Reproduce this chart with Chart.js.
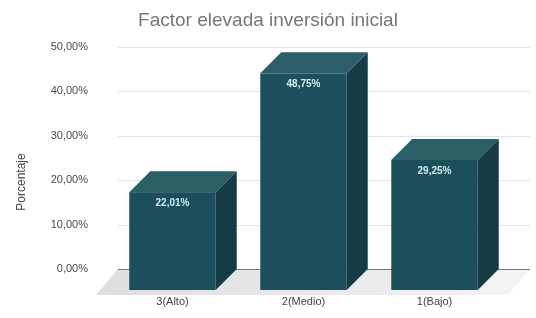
<!DOCTYPE html>
<html>
<head>
<meta charset="utf-8">
<script src="https://cdn.jsdelivr.net/npm/chart.js@4"></script>
<style>
  html, body { margin: 0; padding: 0; background: #fff; }
  #wrap { width: 536px; height: 318px; }
</style>
</head>
<body>
<div id="wrap"><canvas id="myChart" width="536" height="318"></canvas></div>
<script>
const categories = ['3(Alto)', '2(Medio)', '1(Bajo)'];
const percentValues = [22.01, 48.75, 29.25];
const yTicks = [0, 10, 20, 30, 40, 50];

const chartTitle = 'Factor elevada inversión inicial';
const yAxisTitle = 'Porcentaje';

// 3d look
const depthX = 21;
const depthY = 21;
const frontColor = '#1c4e5c';
const topColor = '#2c5e68';
const sideColor = '#153b46';

function pct(v) {
    return v.toFixed(2).replace('.', ',') + '%';
}

const floorAndGrid = {
    id: 'floorAndGrid',
    beforeDatasetsDraw: (chart) => {
        const {ctx, chartArea: {left, right}, scales: {y}} = chart;
        const base = y.getPixelForValue(0);
        ctx.save();
        // floor
        const g = ctx.createLinearGradient(left, 0, right, 0);
        g.addColorStop(0, '#dedede');
        g.addColorStop(1, '#f3f3f3');
        ctx.fillStyle = g;
        ctx.beginPath();
        ctx.moveTo(left + 11, base);
        ctx.lineTo(right + 30, base);
        ctx.lineTo(right + 8, base + 26);
        ctx.lineTo(left - 11, base + 26);
        ctx.closePath();
        ctx.fill();
        // grid lines
        y.ticks.forEach(t => {
            const py = Math.round(y.getPixelForValue(t.value)) + 0.5;
            ctx.strokeStyle = t.value === 0 ? '#7a7a7a' : '#e4e4e4';
            ctx.lineWidth = 1;
            ctx.beginPath();
            ctx.moveTo(left + 11, py);
            ctx.lineTo(right + 30, py);
            ctx.stroke();
        });
        // y axis title
        ctx.translate(22, 182);
        ctx.rotate(-Math.PI / 2);
        ctx.fillStyle = '#444';
        ctx.font = '12px "Liberation Sans", Arial, sans-serif';
        ctx.textAlign = 'center';
        ctx.textBaseline = 'middle';
        ctx.fillText(yAxisTitle, 0, 0);
        ctx.restore();
    }
};

const bars3d = {
    id: 'bars3d',
    afterDatasetsDraw: (chart) => {
        const {ctx} = chart;
        const meta = chart.getDatasetMeta(0);
        ctx.save();
        meta.data.forEach((bar, i) => {
            const {x, y, base, width} = bar.getProps(['x', 'y', 'base', 'width'], true);
            const l = x - width / 2;
            const r = x + width / 2;
            const ft = y + depthY;
            const fb = base + depthY;
            // top
            ctx.fillStyle = topColor;
            ctx.beginPath();
            ctx.moveTo(l, ft);
            ctx.lineTo(l + depthX, y);
            ctx.lineTo(r + depthX, y);
            ctx.lineTo(r, ft);
            ctx.closePath();
            ctx.fill();
            // side
            ctx.fillStyle = sideColor;
            ctx.beginPath();
            ctx.moveTo(r, ft);
            ctx.lineTo(r + depthX, y);
            ctx.lineTo(r + depthX, base);
            ctx.lineTo(r, fb);
            ctx.closePath();
            ctx.fill();
            // front
            ctx.fillStyle = frontColor;
            ctx.fillRect(l, ft, width, fb - ft);
            // value label
            ctx.fillStyle = '#d4ecef';
            ctx.font = 'bold 10px "Liberation Sans", Arial, sans-serif';
            ctx.textAlign = 'center';
            ctx.textBaseline = 'middle';
            ctx.fillText(pct(percentValues[i]), x, ft + 11);
        });
        ctx.restore();
    }
};

const data = {
    labels: categories,
    datasets: [{
        label: yAxisTitle,
        data: percentValues,
        backgroundColor: 'rgba(0,0,0,0)',
        borderWidth: 0,
        barPercentage: 0.66,
        categoryPercentage: 1
    }]
};

const config = {
    type: 'bar',
    data,
    options: {
        responsive: false,
        animation: false,
        layout: { padding: 0 },
        plugins: {
            legend: { display: false },
            tooltip: { enabled: false },
            title: {
                display: true,
                text: chartTitle,
                color: '#767676',
                font: { family: '"Liberation Sans", Arial, sans-serif', size: 19, weight: 'normal' },
                padding: { top: 9, bottom: 15 }
            }
        },
        scales: {
            x: {
                grid: { display: false, drawTicks: false },
                border: { display: false },
                ticks: {
                    color: '#444',
                    padding: 26,
                    font: { family: '"Liberation Sans", Arial, sans-serif', size: 11 }
                },
                afterFit: (scale) => { scale.width = 0; scale.height = 49; }
            },
            y: {
                min: 0,
                max: 50,
                grid: { display: false, drawTicks: false },
                border: { display: false },
                afterBuildTicks: (scale) => { scale.ticks = yTicks.map(v => ({value: v})); },
                ticks: {
                    color: '#4a4a4a',
                    padding: 19,
                    font: { family: '"Liberation Sans", Arial, sans-serif', size: 11 },
                    callback: (v) => pct(v)
                },
                afterFit: (scale) => { scale.width = 107; }
            },
            // empty right axis, only keeps room for the 3d depth
            yRight: {
                position: 'right',
                grid: { display: false, drawTicks: false },
                border: { display: false },
                ticks: { display: false },
                afterFit: (scale) => { scale.width = 36; }
            }
        }
    },
    plugins: [floorAndGrid, bars3d]
};

const myChart = new Chart(document.getElementById('myChart'), config);
</script>
</body>
</html>
